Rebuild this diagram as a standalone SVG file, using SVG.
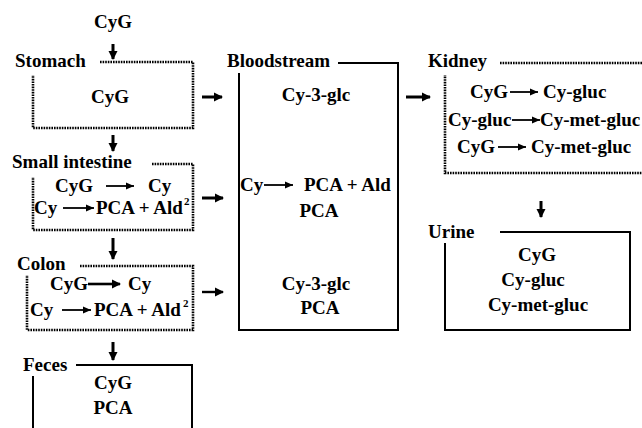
<svg xmlns="http://www.w3.org/2000/svg" width="642" height="428" viewBox="0 0 642 428">
<defs>
<marker id="ah" markerUnits="userSpaceOnUse" markerWidth="10" markerHeight="10" refX="8" refY="5" orient="auto">
<path d="M0,0.5 L9,5 L0,9.5 z" fill="#000"/>
</marker>
<marker id="ahs" markerUnits="userSpaceOnUse" markerWidth="9" markerHeight="8" refX="8" refY="4" orient="auto">
<path d="M0,0.5 L8,4 L0,7.5 z" fill="#000"/>
</marker>
</defs>
<rect width="642" height="428" fill="#fff"/>
<g font-family="Liberation Serif" font-weight="bold" font-size="19" fill="#000">

<g id="input"><text text-anchor="middle" x="113" y="28">CyG</text></g>

<g id="stomach">
<path d="M100,62 H193 V128 H33 V75" fill="none" stroke="#000" stroke-width="2.6" stroke-dasharray="1.6 1"/>
<text x="15" y="67">Stomach</text>
<text text-anchor="middle" x="110" y="103">CyG</text>
</g>

<g id="small-intestine">
<path d="M152,164 H193 V230 H33 V177" fill="none" stroke="#000" stroke-width="2.6" stroke-dasharray="1.6 1"/>
<text x="12" y="168">Small intestine</text>
<text x="55" y="192">CyG</text>
<line x1="106" y1="186" x2="134" y2="186" stroke="#000" stroke-width="1.8" marker-end="url(#ahs)"/>
<text x="148" y="192">Cy</text>
<text x="34" y="214">Cy</text>
<line x1="63" y1="208" x2="94" y2="208" stroke="#000" stroke-width="1.8" marker-end="url(#ahs)"/>
<text x="96" y="214">PCA + Ald</text>
<text x="184" y="205" font-size="11">2</text>
</g>

<g id="colon">
<path d="M80,266 H193 V330 H27 V275" fill="none" stroke="#000" stroke-width="2.6" stroke-dasharray="1.6 1"/>
<text x="17" y="270">Colon</text>
<text x="50" y="290">CyG</text>
<line x1="88" y1="284" x2="120" y2="284" stroke="#000" stroke-width="2.6" marker-end="url(#ah)"/>
<text x="128" y="290">Cy</text>
<text x="30" y="316">Cy</text>
<line x1="62" y1="310" x2="91" y2="310" stroke="#000" stroke-width="1.8" marker-end="url(#ahs)"/>
<text x="94" y="316">PCA + Ald</text>
<text x="183" y="307" font-size="11">2</text>
</g>

<g id="feces">
<path d="M76,365 H192 V428 M33,376 V428" fill="none" stroke="#000" stroke-width="2"/>
<text x="23" y="371">Feces</text>
<text text-anchor="middle" x="113" y="389">CyG</text>
<text text-anchor="middle" x="113" y="414">PCA</text>
</g>

<g id="bloodstream">
<path d="M338,63 H398 V330 H239 V73" fill="none" stroke="#000" stroke-width="2"/>
<text x="227" y="67">Bloodstream</text>
<text text-anchor="middle" x="316" y="101">Cy-3-glc</text>
<text x="240" y="191">Cy</text>
<line x1="264" y1="185" x2="293" y2="185" stroke="#000" stroke-width="1.8" marker-end="url(#ahs)"/>
<text x="304" y="191">PCA + Ald</text>
<text text-anchor="middle" x="319" y="217">PCA</text>
<text text-anchor="middle" x="316" y="290">Cy-3-glc</text>
<text text-anchor="middle" x="320" y="314">PCA</text>
</g>

<g id="kidney">
<path d="M500,63 H644 M644,173 H445 V75" fill="none" stroke="#000" stroke-width="2.6" stroke-dasharray="1.6 1"/>
<text x="428" y="67">Kidney</text>
<text x="470" y="98">CyG</text>
<line x1="510" y1="92" x2="538" y2="92" stroke="#000" stroke-width="1.8" marker-end="url(#ahs)"/>
<text x="543" y="98">Cy-gluc</text>
<text x="448" y="126">Cy-gluc</text>
<line x1="512" y1="120" x2="540" y2="120" stroke="#000" stroke-width="1.8" marker-end="url(#ahs)"/>
<text x="540" y="126">Cy-met-gluc</text>
<text x="457" y="153">CyG</text>
<line x1="498" y1="147" x2="526" y2="147" stroke="#000" stroke-width="1.8" marker-end="url(#ahs)"/>
<text x="531" y="153">Cy-met-gluc</text>
</g>

<g id="urine">
<path d="M500,232 H630 V330 H445 V243" fill="none" stroke="#000" stroke-width="2"/>
<text x="428" y="238">Urine</text>
<text text-anchor="middle" x="537" y="261">CyG</text>
<text text-anchor="middle" x="533" y="286">Cy-gluc</text>
<text text-anchor="middle" x="538" y="311">Cy-met-gluc</text>
</g>
</g>

<g id="connectors" stroke="#000" stroke-width="3" marker-end="url(#ah)">
<line x1="113" y1="44" x2="113" y2="59"/>
<line x1="113" y1="135" x2="113" y2="151"/>
<line x1="113" y1="238" x2="113" y2="259"/>
<line x1="113" y1="342" x2="113" y2="360"/>
<line x1="541" y1="201" x2="541" y2="217"/>
<line x1="202" y1="97" x2="222" y2="97"/>
<line x1="202" y1="198" x2="223" y2="198"/>
<line x1="202" y1="292" x2="223" y2="292" stroke-width="2.4"/>
<line x1="406" y1="97" x2="430" y2="97"/>
</g>
</svg>
